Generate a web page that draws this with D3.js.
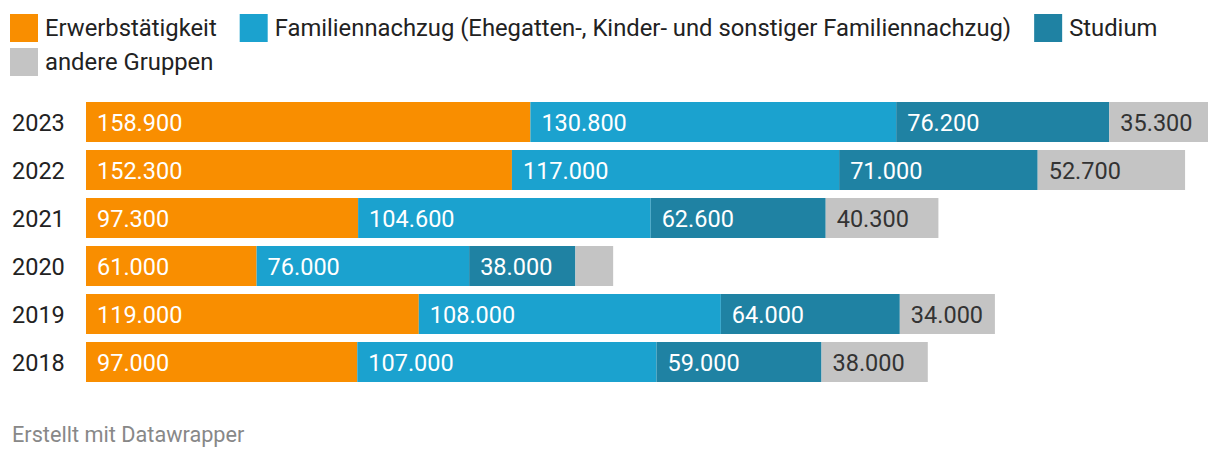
<!DOCTYPE html>
<html><head><meta charset="utf-8">
<script src="https://cdn.jsdelivr.net/npm/d3@7"></script>
<style>
html,body{margin:0;padding:0;background:#fff;}
svg{display:block;font-family:Roboto,"Noto Sans",sans-serif;}
</style></head>
<body><svg id="c" width="1220" height="460"></svg>
<script>
const years = ["2023","2022","2021","2020","2019","2018"];
const seriesNames = ["Erwerbstätigkeit","Familiennachzug (Ehegatten-, Kinder- und sonstiger Familiennachzug)","Studium","andere Gruppen"];
const seriesKeys = ["erwerb","familie","studium","andere"];
const erwerb  = [158900,152300,97300,61000,119000,97000];
const familie = [130800,117000,104600,76000,108000,107000];
const studium = [76200,71000,62600,38000,64000,59000];
const andere  = [35300,52700,40300,13500,34000,38000];
const colors = ["#f98e00","#1ba2cf","#1f82a3","#c4c4c4"];
const labelColors = ["#ffffff","#ffffff","#ffffff","#333333"];
const footer = "Erstellt mit Datawrapper";

const FS = 23.5;
const rows = years.map((y,i)=>({year:y, erwerb:erwerb[i], familie:familie[i], studium:studium[i], andere:andere[i]}));
const svg = d3.select("#c");

// Legend
const legend = svg.append("g");
let lx = 10, ly = 14;
const sq = 28, rowPitch = 34, maxW = 1212;
seriesNames.forEach((name,i)=>{
  const g = legend.append("g");
  g.append("rect").attr("width",sq).attr("height",sq).attr("fill",colors[i]);
  const t = g.append("text").attr("x",sq+7).attr("y",22).attr("font-size",23.8).attr("fill","#222").text(name);
  const w = sq+7+t.node().getComputedTextLength();
  if (lx + w > maxW) { lx = 10; ly += rowPitch; }
  g.attr("transform",`translate(${lx},${ly})`);
  lx += w + 23;
});

// Scales
const stack = d3.stack().keys(seriesKeys)(rows);
const maxTotal = d3.max(rows, r=>r.erwerb+r.familie+r.studium+r.andere);
const x = d3.scaleLinear().domain([0,maxTotal]).range([86,1208]);
const y = d3.scaleBand().domain(years).range([102, 102 + 6*48 - 8]).paddingInner(8/48).paddingOuter(0);

// Year labels
svg.append("g").selectAll("text").data(years).join("text")
  .attr("x",12).attr("y",d=>y(d)+y.bandwidth()/2+8.5)
  .attr("font-size",FS).attr("fill","#222").text(d=>d);

const fmt = d3.formatLocale({decimal:",",thousands:".",grouping:[3],currency:["","€"]}).format(",.0f");

stack.forEach((layer,si)=>{
  const g = svg.append("g");
  g.selectAll("rect").data(layer).join("rect")
    .attr("x",d=>x(d[0])).attr("width",d=>x(d[1])-x(d[0]))
    .attr("y",d=>y(d.data.year)).attr("height",y.bandwidth())
    .attr("fill",colors[si]);
  g.selectAll("text").data(layer).join("text")
    .attr("x",d=>x(d[0])+11).attr("y",d=>y(d.data.year)+y.bandwidth()/2+8.5)
    .attr("font-size",FS).attr("fill",labelColors[si])
    .text(d=>fmt(d[1]-d[0]))
    .each(function(d){
      const w = this.getComputedTextLength();
      if (w + 16 > x(d[1])-x(d[0])) d3.select(this).remove();
    });
});

svg.append("text").attr("x",12).attr("y",442).attr("font-size",21.7).attr("fill","#888").text(footer);
</script></body></html>
